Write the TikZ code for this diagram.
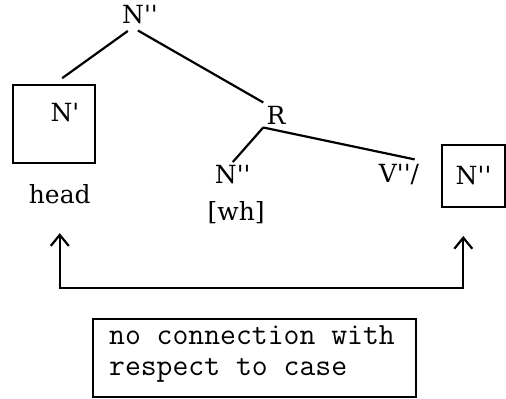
\documentclass[tikz,border=0pt]{standalone}
\usepackage{fontspec}
\setmainfont{DejaVu Serif}
\usetikzlibrary{arrows.meta,positioning}

\begin{document}
\begin{tikzpicture}[
  font=\fontsize{12.5}{15}\selectfont,
  cat/.style={inner sep=1.5pt},
  branch/.style={line width=1.1pt},
  framebox/.style={draw, line width=1.1pt},
  link/.style={line width=1.1pt, {Straight Barb[length=5.5pt,width=9pt]}-{Straight Barb[length=5.5pt,width=9pt]}}
]
\useasboundingbox (0,0) rectangle (8.89,7.01);
% tree
\node[cat] (top) at (2.46,6.75) {N\textquotesingle\textquotesingle};
\node[framebox, minimum width=1.44cm, minimum height=1.37cm] (headbox) at (0.95,4.83) {};
\node[cat] (nbar) at ([xshift=0.19cm,yshift=0.2cm]headbox.center) {N\textquotesingle};
\node[cat] (head) at (1.05,3.60) {head};
\node[cat] (rel) at (4.85,4.99) {R};
\node[cat] (nwh) at (4.09,3.94) {N\textquotesingle\textquotesingle};
\node[cat] (wh) at (4.15,3.27) {[wh]};
\node[cat] (vbar) at (7.01,3.94) {V\textquotesingle\textquotesingle/};
\node[framebox, minimum width=1.10cm, minimum height=1.09cm] (rbox) at (8.32,3.92) {N\textquotesingle\textquotesingle};
% branches
\draw[branch, shorten <=3pt, shorten >=5pt] (top.240) -- (headbox.north);
\draw[branch, shorten <=3pt] (top.240) -- (rel.north west);
\draw[branch] (rel.south west) -- (nwh.north);
\draw[branch, shorten >=4pt] (rel.south west) -- (vbar.north east);
% case link
\coordinate (rbase) at (8.14,1.95);
\draw[link, shorten <=13pt, shorten >=14pt] (head.south) |- (rbase) -- (rbase |- rbox.south);
% note
\node[framebox, minimum width=5.68cm, minimum height=1.37cm] (note) at (4.47,0.72) {};
\node[align=left, anchor=north west, inner sep=0pt, font=\ttfamily\fontsize{15.4}{15.5}\selectfont]
  (notetext) at ([xshift=0.3cm,yshift=-0.13cm]note.north west) {no connection with\\respect to case};
\end{tikzpicture}
\end{document}
